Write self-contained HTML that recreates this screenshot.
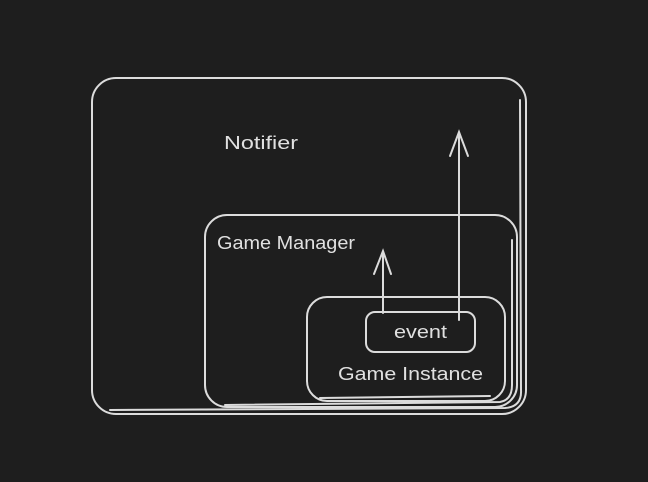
<!DOCTYPE html>
<html><head><style>
html,body{margin:0;padding:0;background:#1e1e1e;}
svg{display:block}
text{font-family:"Liberation Sans",sans-serif;fill:#e0e0e0;font-size:18px}
</style></head><body>
<svg width="648" height="482" viewBox="0 0 648 482" xmlns="http://www.w3.org/2000/svg">
<rect width="648" height="482" fill="#1e1e1e"/>
<g fill="none" stroke="#dcdcdc" stroke-width="2" stroke-linecap="round">
<rect x="92" y="78" width="434" height="336" rx="24"/>
<path d="M110 410 L505 408 Q522 407 521 390 L520 100"/>
<rect x="205" y="215" width="312" height="192" rx="22"/>
<path d="M225 405 L500 402 Q512 400 512 385 L512 240"/>
<rect x="307" y="297" width="198" height="104" rx="20"/>
<path d="M320 398 L490 396"/>
<rect x="366" y="312" width="109" height="40" rx="9"/>
<line x1="383" y1="313" x2="383" y2="252"/>
<path d="M374 274 L383 251 L391 274"/>
<line x1="459" y1="320" x2="459" y2="133"/>
<path d="M450 156 L459 132 L468 156"/>
</g>
<text x="224" y="149" textLength="74" lengthAdjust="spacingAndGlyphs">Notifier</text>
<text x="217" y="249" textLength="138" lengthAdjust="spacingAndGlyphs">Game Manager</text>
<text x="394" y="338" textLength="53" lengthAdjust="spacingAndGlyphs">event</text>
<text x="338" y="380" textLength="145" lengthAdjust="spacingAndGlyphs">Game Instance</text>
</svg>
</body></html>
